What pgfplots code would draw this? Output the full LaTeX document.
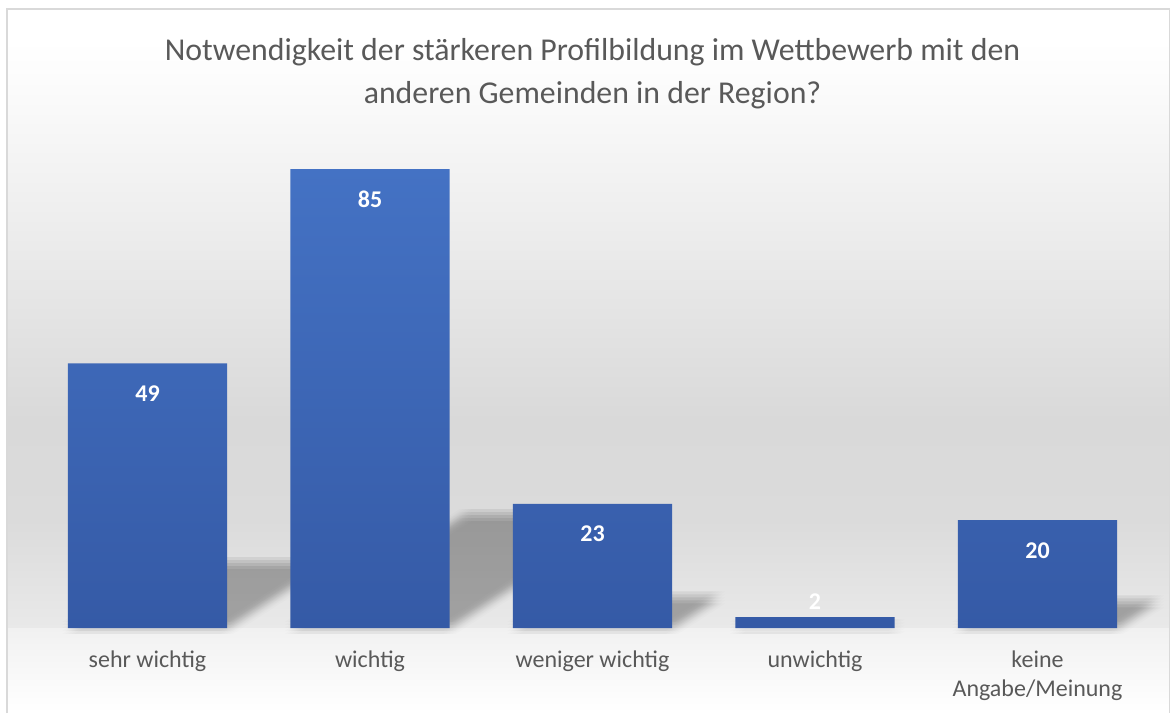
\documentclass[border=0pt]{standalone}
\usepackage{pgfplots}
\pgfplotsset{compat=1.18}
\usepackage{fontspec}
\setmainfont{Carlito}
\definecolor{txt}{HTML}{595959}
\definecolor{bartop}{HTML}{4472C4}
\definecolor{barbot}{HTML}{355AA6}
\definecolor{framec}{HTML}{D9D9D9}
\definecolor{bgA}{HTML}{FCFCFC}
\definecolor{bgB}{HTML}{D9D9D9}
\definecolor{bgC}{HTML}{DBDBDB}
\definecolor{bgD}{HTML}{E9E9E9}
\definecolor{bgE}{HTML}{F1F1F1}

\newcommand\shadowlayer[2]{%
  \addplot[draw=none, fill=black, fill opacity=0.0105, xshift=#1, yshift=#2]
    coordinates {(-0.3575,0) (0.3575,0) (0.811,12.05) (0.096,12.05)} -- cycle;
  \addplot[draw=none, fill=black, fill opacity=0.0105, xshift=#1, yshift=#2]
    coordinates {(0.6425,0) (1.3575,0) (2.1445,20.91) (1.4295,20.91)} -- cycle;
  \addplot[draw=none, fill=black, fill opacity=0.0105, xshift=#1, yshift=#2]
    coordinates {(1.6425,0) (2.3575,0) (2.5705,5.66) (1.8555,5.66)} -- cycle;
  \addplot[draw=none, fill=black, fill opacity=0.0105, xshift=#1, yshift=#2]
    coordinates {(2.6425,0) (3.3575,0) (3.376,0.49) (2.661,0.49)} -- cycle;
  \addplot[draw=none, fill=black, fill opacity=0.0105, xshift=#1, yshift=#2]
    coordinates {(3.6425,0) (4.3575,0) (4.5425,4.92) (3.8275,4.92)} -- cycle;
}
\newcommand\shadowrow[1]{%
  \shadowlayer{-3pt}{#1}\shadowlayer{-1.5pt}{#1}\shadowlayer{0pt}{#1}%
  \shadowlayer{1.5pt}{#1}\shadowlayer{3pt}{#1}}

\begin{document}
\begin{tikzpicture}
\useasboundingbox (0,0) rectangle (585.5pt,356.5pt);
\begin{scope}[x=0.5pt, y=-0.5pt, shift={(0,356.5pt)}]
  \fill[white] (0,0) rectangle (1171,713);
  \shade[top color=white, bottom color=bgA] (8,40) rectangle (1169,80.5);
  \shade[top color=bgA, bottom color=bgB] (8,80) rectangle (1169,420.5);
  \shade[top color=bgB, bottom color=bgC] (8,420) rectangle (1169,520.5);
  \shade[top color=bgC, bottom color=bgD] (8,520) rectangle (1169,628);
  \shade[top color=bgE, bottom color=white] (8,628) rectangle (1169,713);
  \draw[framec, line width=0.8pt] (7,713) -- (7,9) -- (1169.5,9) -- (1169.5,713);
  \node[anchor=base, text=txt, font=\fontsize{15.9}{19}\selectfont, inner sep=0pt]
    at (592.5,61) {Notwendigkeit der stärkeren Profilbildung im Wettbewerb mit den};
  \node[anchor=base, text=txt, font=\fontsize{15.9}{19}\selectfont, inner sep=0pt]
    at (592.5,104) {anderen Gemeinden in der Region?};
\end{scope}

\begin{axis}[
  at={(18.125pt,42.5pt)}, anchor=south west,
  scale only axis, width=556.25pt, height=243pt,
  xmin=-0.5, xmax=4.5, ymin=0, ymax=90,
  axis line style={draw=none},
  tick style={draw=none},
  major tick length=0pt,
  ytick=\empty,
  xtick={0,1,2,3,4},
  xticklabels={{\strut sehr wichtig}, {\strut wichtig}, {\strut weniger wichtig}, {\strut unwichtig}, {\strut keine\\Angabe/Meinung}},
  xticklabel style={font=\fontsize{12}{14.5}\selectfont, text=txt, align=center,
    anchor=north, yshift=-9.35pt, inner sep=0pt},
  /pgf/number format/assume math mode=true,
  clip=false,
]
\shadowrow{-3pt}
\shadowrow{-1.5pt}
\shadowrow{0pt}
\shadowrow{1.5pt}
\shadowrow{3pt}

\addplot[ybar, bar width=0.715, draw=none, top color=bartop, bottom color=barbot,
  nodes near coords, point meta=y,
  visualization depends on={y \as \rawy},
  every node near coord/.style={font=\bfseries\fontsize{12}{14}\selectfont, text=white,
    anchor=base, inner sep=0pt, yshift={ifthenelse(\rawy<5,4,-19)}}]
  coordinates {(0,49) (1,85) (2,23) (3,2) (4,20)};
\end{axis}
\end{tikzpicture}
\end{document}
